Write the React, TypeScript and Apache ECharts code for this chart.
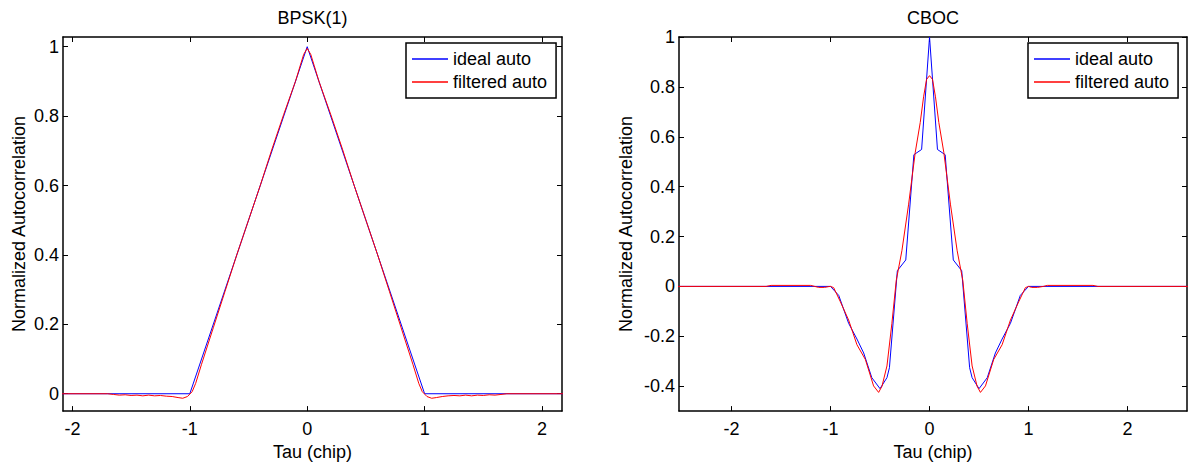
import React, { useEffect, useRef } from "react";
import * as echarts from "echarts";

const FONT = "'Liberation Sans', Arial, Helvetica, sans-serif";

// ---------- BPSK(1) ----------
const bpskIdealTau = [-2.5, -1, 0, 1, 2.5];
const bpskIdealVal = [0, 0, 1, 0, 0];

const bpskFiltTau = [
  -2.5, -1.7, -1.65, -1.6, -1.55, -1.5, -1.45, -1.4, -1.35, -1.3, -1.25, -1.2, -1.15, -1.1, -1.06, -1.02,
  -0.98, -0.95, -0.9, -0.8, -0.7, -0.6, -0.5, -0.4, -0.3, -0.2, -0.1, -0.06, -0.03, 0,
  0.03, 0.06, 0.1, 0.2, 0.3, 0.4, 0.5, 0.6, 0.7, 0.8, 0.9, 0.95, 0.98,
  1.02, 1.06, 1.1, 1.15, 1.2, 1.25, 1.3, 1.35, 1.4, 1.45, 1.5, 1.55, 1.6, 1.65, 1.7, 2.5,
];
const bpskFiltVal = [
  0, 0, -0.002, -0.004, -0.003, -0.005, -0.004, -0.006, -0.004, -0.006, -0.005, -0.007, -0.008, -0.011, -0.013, -0.008,
  0.006, 0.03, 0.085, 0.19, 0.295, 0.4, 0.5, 0.6, 0.705, 0.805, 0.9, 0.945, 0.978, 0.995,
  0.978, 0.945, 0.9, 0.805, 0.705, 0.6, 0.5, 0.4, 0.295, 0.19, 0.085, 0.03, 0.006,
  -0.008, -0.013, -0.011, -0.008, -0.006, -0.005, -0.006, -0.004, -0.006, -0.004, -0.005, -0.003, -0.004, -0.002, 0, 0,
];

// ---------- CBOC ----------
const cbocIdealTau = [
  -2.7, -1.0, -0.917, -0.817, -0.733, -0.665, -0.583, -0.5, -0.43, -0.405, -0.325, -0.24, -0.158, -0.08, 0,
  0.08, 0.158, 0.24, 0.325, 0.405, 0.43, 0.5, 0.583, 0.665, 0.733, 0.817, 0.917, 1.0, 2.7,
];
const cbocIdealVal = [
  0, 0, -0.036, -0.148, -0.211, -0.267, -0.366, -0.41, -0.366, -0.326, 0.063, 0.106, 0.528, 0.549, 1.0,
  0.549, 0.528, 0.106, 0.063, -0.326, -0.366, -0.41, -0.366, -0.267, -0.211, -0.148, -0.036, 0, 0,
];

const cbocFiltTau = [
  -2.7, -1.65, -1.6, -1.2, -1.16, -1.12, -1.06, -1.02, -1.0, -0.968, -0.9, -0.817, -0.733, -0.648, -0.565,
  -0.514, -0.48, -0.43, -0.38, -0.336, -0.279, -0.212, -0.144, -0.094, -0.06, -0.03, 0,
  0.03, 0.06, 0.094, 0.144, 0.212, 0.279, 0.336, 0.38, 0.43, 0.48, 0.514, 0.565, 0.648, 0.733, 0.817, 0.9,
  0.968, 1.0, 1.03, 1.09, 1.15, 1.19, 1.65, 1.7, 2.7,
];
const cbocFiltVal = [
  0, 0, 0.004, 0.004, 0, -0.004, -0.004, -0.001, 0, -0.005, -0.062, -0.135, -0.234, -0.293, -0.399,
  -0.425, -0.4, -0.319, -0.148, 0.024, 0.143, 0.327, 0.538, 0.657, 0.76, 0.83, 0.845,
  0.83, 0.76, 0.657, 0.538, 0.327, 0.143, 0.024, -0.148, -0.319, -0.4, -0.425, -0.399, -0.293, -0.234, -0.135, -0.062,
  -0.005, 0, -0.004, -0.004, 0, 0.004, 0.004, 0, 0,
];

const xTicks = [-2, -1, 0, 1, 2];
const yTicksLeft = [0, 0.2, 0.4, 0.6, 0.8, 1];
const yTicksRight = [-0.4, -0.2, 0, 0.2, 0.4, 0.6, 0.8, 1];

const titles = ["BPSK(1)", "CBOC"];
const seriesNames = ["ideal auto", "filtered auto"];
const xName = "Tau (chip)";
const yName = "Normalized Autocorrelation";

const pairs = (xs: number[], ys: number[]) => xs.map((x, i) => [x, ys[i]]);

export default function App() {
  const ref = useRef<HTMLDivElement>(null);

  useEffect(() => {
    if (!ref.current) return;
    const chart = echarts.init(ref.current, null, { renderer: "svg" });

    const lineStyle = { color: "#000", width: 1.5 };
    const labelStyle = { color: "#000", fontSize: 18, fontFamily: FONT };

    const xAxisDef = (
      gridIndex: number,
      min: number,
      max: number,
      position: "top" | "bottom",
      withLabels: boolean
    ) => ({
      type: "value",
      gridIndex,
      min,
      max,
      position,
      axisLine: { show: true, onZero: false, lineStyle },
      axisTick: { show: true, inside: true, length: 5, customValues: xTicks, lineStyle: { color: "#000", width: 1 } },
      axisLabel: { show: withLabels, customValues: xTicks, margin: 9, ...labelStyle },
      splitLine: { show: false },
      name: withLabels ? xName : "",
      nameLocation: "middle",
      nameGap: 26,
      nameTextStyle: { color: "#000", fontSize: 18, fontFamily: FONT },
    });

    const yAxisDef = (
      gridIndex: number,
      min: number,
      max: number,
      ticks: number[],
      position: "left" | "right",
      withLabels: boolean,
      nameGap: number
    ) => ({
      type: "value",
      gridIndex,
      min,
      max,
      position,
      axisLine: { show: true, onZero: false, lineStyle },
      axisTick: { show: true, inside: true, length: 5, customValues: ticks, lineStyle: { color: "#000", width: 1 } },
      axisLabel: { show: withLabels, customValues: ticks, margin: 4, ...labelStyle },
      splitLine: { show: false },
      name: withLabels ? yName : "",
      nameLocation: "middle",
      nameGap,
      nameRotate: 90,
      nameTextStyle: { color: "#000", fontSize: 18, fontFamily: FONT },
    });

    const legendDef = (left: number) => ({
      left,
      top: 43,
      orient: "vertical",
      data: seriesNames.map((n) => ({ name: n, icon: "rect" })),
      itemWidth: 36,
      itemHeight: 1.5,
      itemGap: 5,
      padding: [7, 9, 7, 6],
      borderColor: "#000",
      borderWidth: 1.5,
      borderRadius: 0,
      backgroundColor: "#fff",
      selectedMode: false,
      textStyle: { color: "#000", fontSize: 18, fontFamily: FONT },
    });

    const option = {
      animation: false,
      backgroundColor: "#fff",
      textStyle: { fontFamily: FONT },
      title: [
        { text: titles[0], left: 312.5, top: 9, textAlign: "center", padding: 0, textStyle: { color: "#000", fontSize: 18, fontWeight: "normal", fontFamily: FONT } },
        { text: titles[1], left: 933, top: 9, textAlign: "center", padding: 0, textStyle: { color: "#000", fontSize: 18, fontWeight: "normal", fontFamily: FONT } },
      ],
      grid: [
        { left: 63, top: 37, width: 499, height: 379, containLabel: false },
        { left: 679, top: 37, width: 508, height: 379, containLabel: false },
      ],
      legend: [legendDef(406), legendDef(1028)],
      xAxis: [
        xAxisDef(0, -2.08, 2.17, "bottom", true),
        xAxisDef(0, -2.08, 2.17, "top", false),
        xAxisDef(1, -2.53, 2.6, "bottom", true),
        xAxisDef(1, -2.53, 2.6, "top", false),
      ],
      yAxis: [
        yAxisDef(0, -0.05, 1.028, yTicksLeft, "left", true, 35),
        yAxisDef(0, -0.05, 1.028, yTicksLeft, "right", false, 0),
        yAxisDef(1, -0.5, 1, yTicksRight, "left", true, 44),
        yAxisDef(1, -0.5, 1, yTicksRight, "right", false, 0),
      ],
      series: [
        {
          name: seriesNames[0], type: "line", xAxisIndex: 0, yAxisIndex: 0, symbol: "none", showSymbol: false,
          data: pairs(bpskIdealTau, bpskIdealVal), lineStyle: { color: "#0000ff", width: 1 }, itemStyle: { color: "#0000ff" }, clip: true,
        },
        {
          name: seriesNames[1], type: "line", xAxisIndex: 0, yAxisIndex: 0, symbol: "none", showSymbol: false,
          data: pairs(bpskFiltTau, bpskFiltVal), lineStyle: { color: "#ff0000", width: 1 }, itemStyle: { color: "#ff0000" }, clip: true,
        },
        {
          name: seriesNames[0], type: "line", xAxisIndex: 2, yAxisIndex: 2, symbol: "none", showSymbol: false,
          data: pairs(cbocIdealTau, cbocIdealVal), lineStyle: { color: "#0000ff", width: 1 }, itemStyle: { color: "#0000ff" }, clip: true,
        },
        {
          name: seriesNames[1], type: "line", xAxisIndex: 2, yAxisIndex: 2, symbol: "none", showSymbol: false,
          data: pairs(cbocFiltTau, cbocFiltVal), lineStyle: { color: "#ff0000", width: 1 }, itemStyle: { color: "#ff0000" }, clip: true,
        },
      ],
    };

    chart.setOption(option as any);
    return () => chart.dispose();
  }, []);

  return (
    <div
      ref={ref}
      style={{ position: "fixed", left: 0, top: 0, width: 1188, height: 466, background: "#fff" }}
    />
  );
}
